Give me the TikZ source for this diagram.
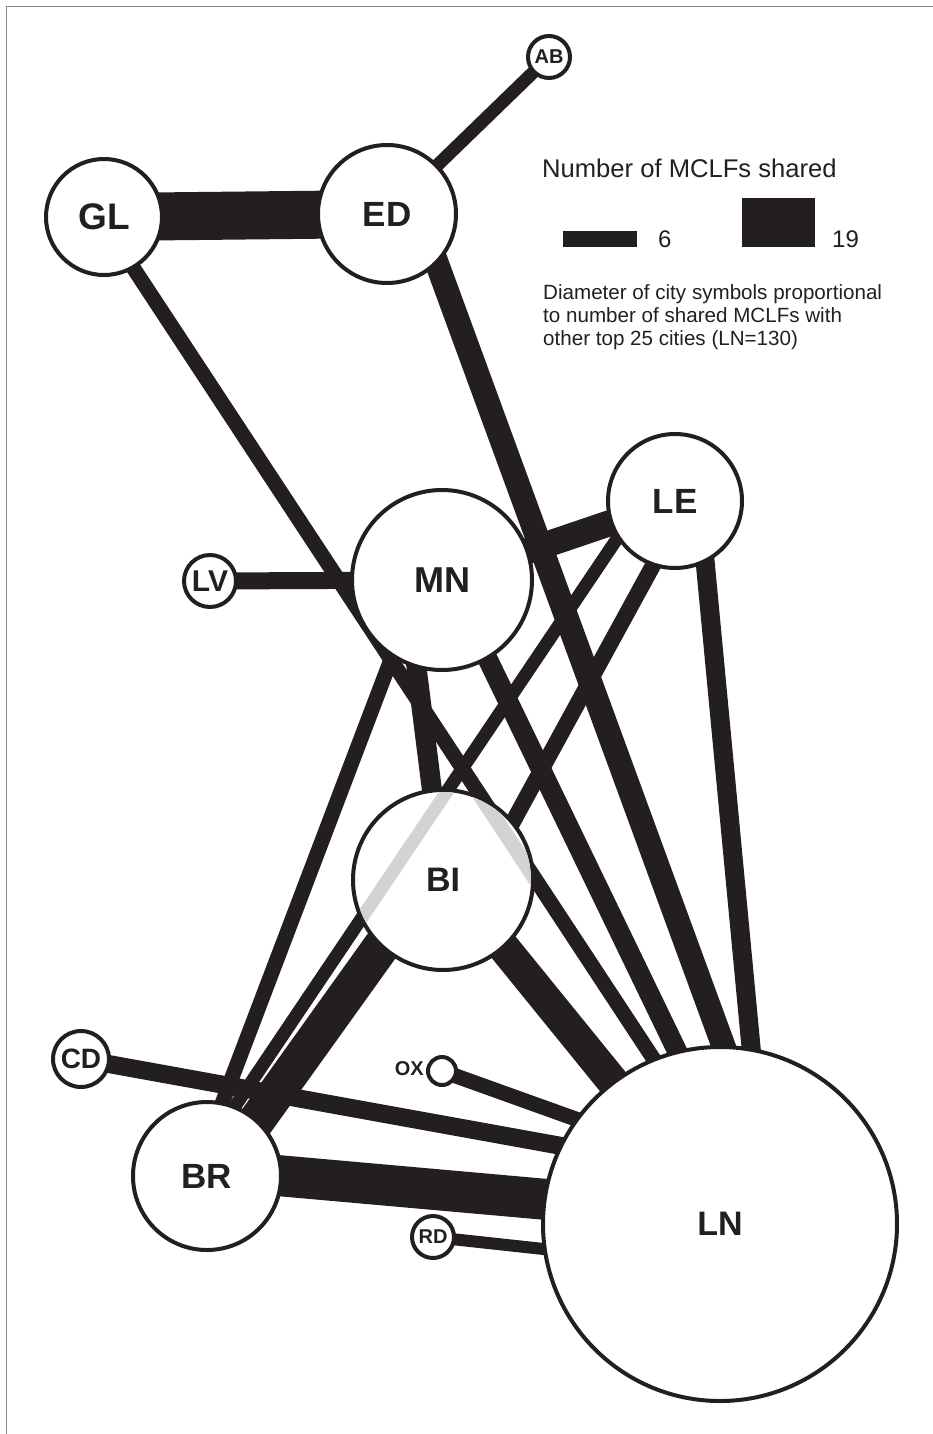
\documentclass[tikz,border=0pt]{standalone}
\usepackage{fontspec}
\setmainfont{Liberation Sans}
\usetikzlibrary{calc}
\definecolor{ink}{HTML}{231F20}
\definecolor{ghost}{HTML}{D1D3D4}
\definecolor{framegray}{HTML}{8A8A8A}
\pgfdeclarelayer{bg}
\pgfdeclarelayer{fg}
\pgfsetlayers{bg,main,fg}
\newcommand{\fs}[1]{\fontsize{#1}{#1}\selectfont}
\begin{document}
\begin{tikzpicture}[x=1pt,y=-1pt,
  city/.style={circle,draw=ink,line width=4pt,fill=white,inner sep=0pt,text=ink},
  link/.style={draw=ink,line width=#1},
  ghostlink/.style={draw=ghost,line width=#1},
  xs/.style={shorten <=-12pt},
  xe/.style={shorten >=-12pt},
  legtext/.style={anchor=base west,inner sep=0pt,text=ink}]
\useasboundingbox (0,0) rectangle (933,1434);
\draw[framegray,line width=1.5pt] (6.5,1434) -- (6.5,6.5) -- (933,6.5);

% cities
\node[city,minimum size=42pt,font=\bfseries\fs{20}] (AB) at (549,57) {AB};
\node[city,minimum size=116pt,font=\bfseries\fs{37}] (GL) at (104,217) {GL};
\node[city,minimum size=138pt,font=\bfseries\fs{35}] (ED) at (387,214) {ED};
\node[city,minimum size=134pt,font=\bfseries\fs{35}] (LE) at (675,501) {LE};
\node[city,minimum size=180pt,font=\bfseries\fs{36}] (MN) at (442,580) {MN};
\node[city,minimum size=52pt,font=\bfseries\fs{30}] (LV) at (210,581) {LV};
\node[city,minimum size=180pt,font=\bfseries\fs{34}] (BI) at (443,880) {BI};
\node[city,minimum size=56pt,font=\bfseries\fs{28}] (CD) at (81,1059) {CD};
\node[city,minimum size=28pt] (OX) at (442,1071) {};
\node[anchor=east,inner sep=0pt,text=ink,font=\bfseries\fs{20}] (OXlab) at (424,1069) {OX};
\node[city,minimum size=148pt,font=\bfseries\fs{35}] (BR) at (207,1176) {BR};
\node[city,minimum size=42pt,font=\bfseries\fs{20}] (RD) at (433,1237) {RD};
\node[city,minimum size=354pt,font=\bfseries\fs{34}] (LN) at (720,1224) {LN};

% legend
\node[legtext,font=\fs{25.6}] (ttl) at (542,178) {Number of MCLFs shared};
\node[fill=ink,inner sep=0pt,minimum width=74pt,minimum height=16pt,anchor=south west] (bar6) at (563,247) {};
\node[legtext,font=\fs{24}] (n6) at (658,247) {6};
\node[fill=ink,inner sep=0pt,minimum width=73pt,minimum height=49pt,anchor=south west] (bar19) at (742,247) {};
\node[legtext,font=\fs{24}] (n19) at (832,247) {19};
\node[legtext,font=\fs{20.6}] (d1) at (543,299) {Diameter of city symbols proportional};
\node[legtext,font=\fs{20.6}] (d2) at (543,322.3) {to number of shared MCLFs with};
\node[legtext,font=\fs{20.6}] (d3) at (543,345.6) {other top 25 cities (LN=130)};

% connectors
\begin{pgfonlayer}{bg}
\draw[link=48pt] (GL.center) -- (ED.center);
\draw[link=13pt] (ED.center) -- (AB.center);
\draw[link=15pt,xs,xe] (GL.-60) -- (LN.112);
\draw[link=24pt,xs,xe] (ED.-45) -- (LN.89);
\draw[link=17pt] (LV.center) -- (MN.center);
\draw[link=26pt] (MN.center) -- (LE.center);
\draw[link=20pt,xs,xe] (MN.-106) -- (BI.97);
\draw[link=15pt,xs,xe] (MN.-123) -- (BR.78);
\draw[link=20pt,xs,xe] (MN.-60) -- (LN.104);
\draw[link=13pt,xs,xe] (LE.-147) -- (BR.68);
\draw[link=16pt,xs,xe] (LE.-109) -- (BI.40);
\draw[link=19pt,xs,xe] (LE.-64) -- (LN.80);
\draw[link=32pt,xs,xe] (BI.-48) -- (LN.127);
\draw[link=11pt,xs,xe] (BI.-141) -- (BR.58);
\draw[link=28pt,xs,xe] (BI.-130) -- (BR.45);
\draw[link=18pt,xe] (CD.center) -- (LN.154);
\draw[link=15pt,xe] (OX.center) -- (LN.144);
\draw[link=41pt,xs,xe] (BR.0) -- (LN.172);
\draw[link=12pt,xe] (RD.center) -- (LN.188);
\end{pgfonlayer}

% connectors seen through BI
\begin{pgfonlayer}{fg}
\begin{scope}
\clip (BI.center) circle (88pt);
\draw[ghostlink=15pt,xs,xe] (GL.-60) -- (LN.112);
\draw[ghostlink=13pt,xs,xe] (LE.-147) -- (BR.68);
\end{scope}
\end{pgfonlayer}
\end{tikzpicture}
\end{document}
